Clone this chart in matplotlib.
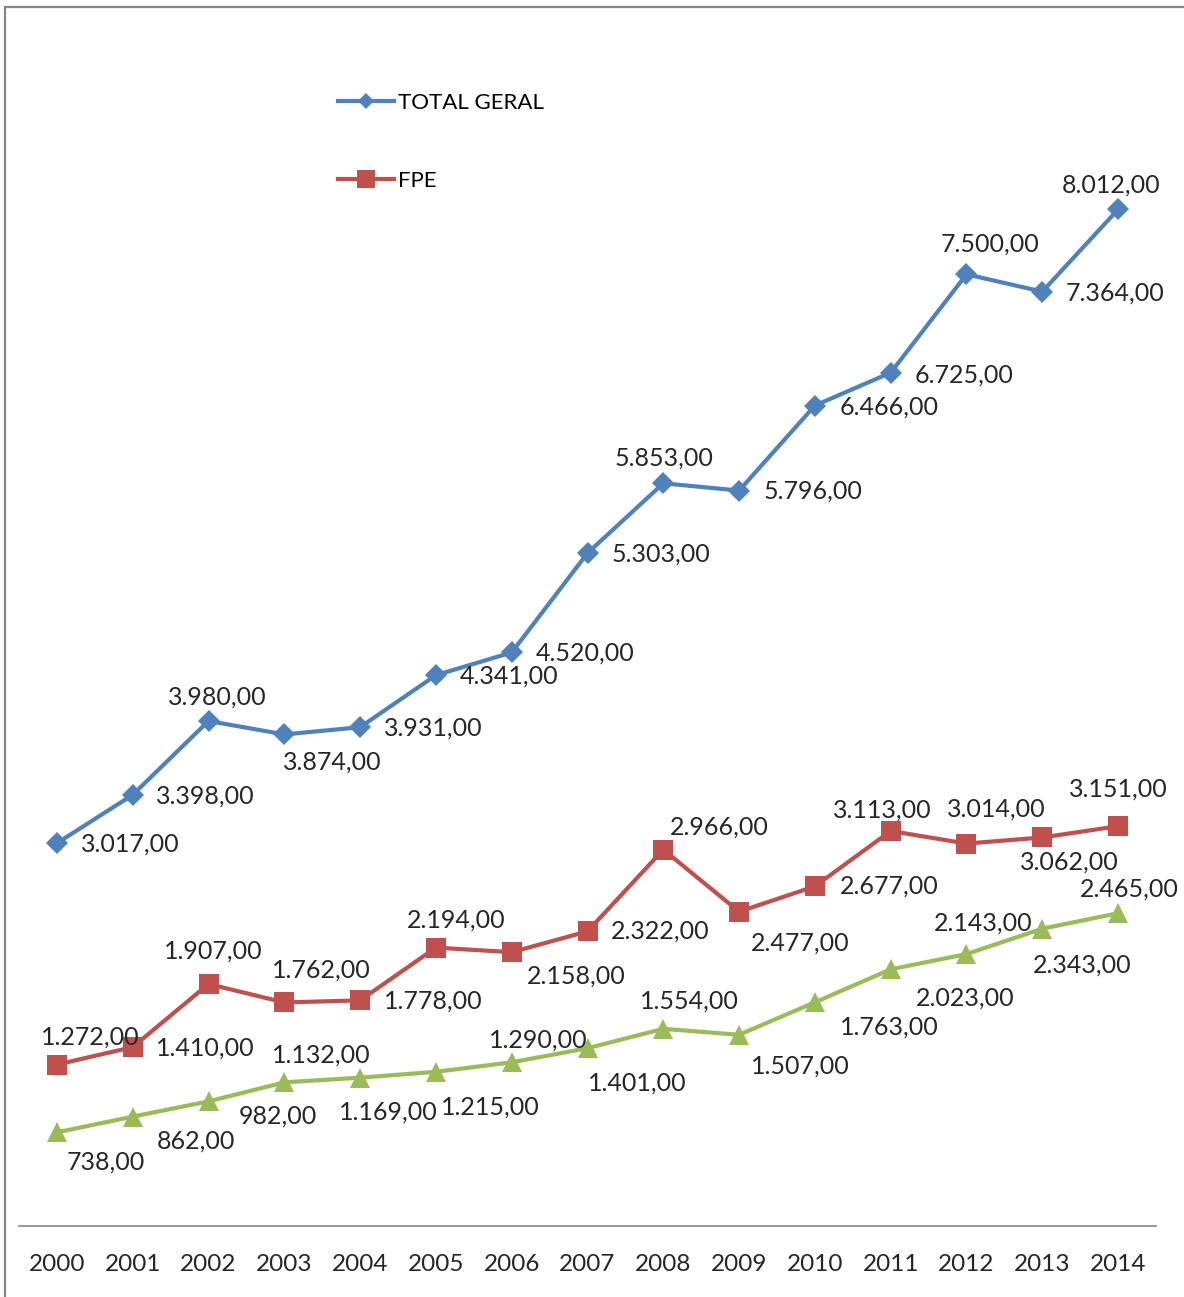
import matplotlib.pyplot as plt
from matplotlib.patches import Rectangle
import numpy as np

plt.rcParams["font.family"] = ["Lato", "DejaVu Sans"]

# Data
years = [str(y) for y in range(2000, 2015)]
total_geral = [3017, 3398, 3980, 3874, 3931, 4341, 4520, 5303, 5853, 5796, 6466, 6725, 7500, 7364, 8012]
fpe = [1272, 1410, 1907, 1762, 1778, 2194, 2158, 2322, 2966, 2477, 2677, 3113, 3014, 3062, 3151]
outros = [738, 862, 982, 1132, 1169, 1215, 1290, 1401, 1554, 1507, 1763, 2023, 2143, 2343, 2465]

# label offsets in pixels (dx, dy) from each point to label centre
off_total = [(73, -1), (73, -1), (9, 24), (48, -28), (73, -1), (73, -1), (73, -1), (73, -1),
             (1, 25), (74, -1), (74, -2), (73, -2), (24, 30), (73, -1), (-7, 24)]
off_fpe = [(33, 28), (73, -1), (5, 33), (37, 32), (73, -1), (20, 28), (65, -24), (73, 0),
           (56, 23), (61, -31), (74, 0), (-8, 21), (30, 34), (27, -25), (0, 37)]
off_outros = [(49, -30), (63, -24), (69, -15), (37, 27), (28, -34), (54, -35), (27, 22), (50, -35),
              (26, 28), (61, -31), (74, -25), (74, -29), (17, 31), (40, -36), (11, 24)]

W, H = 1184, 1297
fig = plt.figure(figsize=(W / 100, H / 100), dpi=100)
ax = fig.add_axes([19 / W, 1 - 1226 / H, (1156 - 19) / W, (1226 - 84) / H])

# chart border (cut off at right and bottom)
fig.patches.append(Rectangle((5 / W, -0.1), 1.2, 1 - 7 / H + 0.1, transform=fig.transFigure,
                             fill=False, edgecolor="#868686", linewidth=1.6))

x = np.arange(len(years))
series = [
    (total_geral, "#4F81BD", "D", 11, "TOTAL GERAL", off_total),
    (fpe, "#C0504D", "s", 15, "FPE", off_fpe),
    (outros, "#9BBB59", "^", 15, None, off_outros),
]
handles = []
for vals, col, mk, ms, lab, offs in series:
    ln, = ax.plot(x, vals, color=col, linewidth=3, marker=mk, markersize=ms,
                  markeredgewidth=0, label=lab, clip_on=False)
    if lab:
        handles.append(ln)
    for xi, v, (dx, dy) in zip(x, vals, offs):
        txt = f"{v:,.2f}".replace(",", "X").replace(".", ",").replace("X", ".")
        ax.annotate(txt, (xi, v), xytext=(dx, dy), textcoords="offset pixels",
                    ha="center", va="center", fontsize=18, color="#262626",
                    annotation_clip=False)

ax.set_xlim(-0.5, 14.5)
ax.set_ylim(0, 9000)
ax.set_xticks(x)
ax.set_xticklabels(years, fontsize=17.5, color="#262626")
ax.tick_params(axis="x", length=0, pad=20)
ax.set_yticks([])
for s in ["top", "right", "left"]:
    ax.spines[s].set_visible(False)
ax.spines["bottom"].set_color("#868686")
ax.spines["bottom"].set_linewidth(1.2)

leg = ax.legend(handles=handles, loc="upper left", bbox_to_anchor=(338 / W, 1 - 93 / H),
                bbox_transform=fig.transFigure, frameon=False, fontsize=16,
                handlelength=2.5, handletextpad=0.2, labelspacing=2.6,
                borderpad=0, borderaxespad=0)
for h, ms in zip(leg.legend_handles, [8.5, 13]):
    h.set_markersize(ms)

fig.savefig("out.png", dpi=100, facecolor="white")
